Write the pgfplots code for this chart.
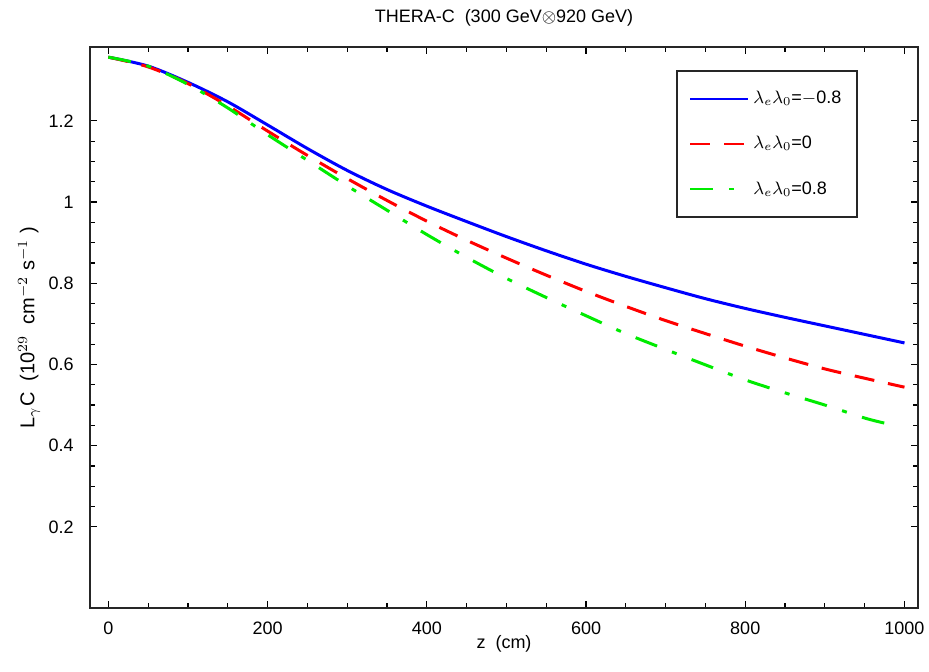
\documentclass[border=0pt]{standalone}
\usepackage{pgfplots}
\pgfplotsset{compat=1.18}
\usepackage{fontspec}
\setmainfont{Liberation Sans}
\begin{document}
\fontsize{9pt}{11pt}\selectfont
\begin{tikzpicture}
\begin{axis}[
  scale only axis, width=414pt, height=280.5pt,
  xmin=-23, xmax=1017, ymin=0, ymax=1.382,
  xtick={0,200,...,1000}, minor x tick num=3,
  xticklabels={0,200,400,600,800,1000},
  ytick={0.2,0.4,...,1.2}, minor y tick num=3,
  yticklabels={0.2,0.4,0.6,0.8,1,1.2},
  tick align=inside, major tick length=3.5pt, minor tick length=2.5pt,
  axis line style={line width=1pt, black!85},
  every tick/.style={black, line width=0.6pt},
  /pgf/number format/assume math mode=true,
  xticklabel style={yshift=-4pt},
  yticklabel style={xshift=-5pt},
  title={THERA-C\ \ (300 GeV$\otimes$920 GeV)},
  title style={yshift=1pt},
  xlabel={z\ \ (cm)}, xlabel style={yshift=6pt},
  ylabel={L$_\gamma$C\ \ (10$^{29}$\ \ cm$^{-2}$\ s$^{-1}$\ )},
  ylabel style={yshift=-2pt, font=\fontsize{10pt}{12pt}\selectfont},
  legend style={at={(0.928,0.959)}, anchor=north east, draw=black!85, line width=1pt,
    inner xsep=6pt, inner ysep=8pt, row sep=11pt, font=\fontsize{9pt}{11pt}\selectfont,
    legend cell align=left},
  legend image code/.code={\draw[#1, line width=1pt] (0pt,0pt) -- (29pt,0pt);},
]
\addplot[blue, line width=1.5pt, smooth] coordinates {
(0,1.357)(50,1.335)(100,1.295)(150,1.247)(200,1.19)(250,1.132)(300,1.078)(350,1.031)
(400,0.99)(450,0.952)(500,0.915)(550,0.880)(600,0.847)(650,0.817)(700,0.789)
(750,0.762)(800,0.738)(850,0.716)(900,0.695)(950,0.674)(1000,0.653)};
\addlegendentry{$\lambda_e\lambda_0$=$-$0.8}
\addplot[red, line width=1.5pt, smooth, dash pattern=on 10pt off 7pt] coordinates {
(0,1.357)(50,1.333)(100,1.292)(150,1.237)(200,1.175)(250,1.115)(300,1.058)(350,1.004)
(400,0.953)(450,0.906)(500,0.862)(550,0.82)(600,0.78)(650,0.743)(700,0.708)
(750,0.676)(800,0.645)(850,0.616)(900,0.589)(950,0.566)(1000,0.544)};
\addlegendentry{$\lambda_e\lambda_0$=0}
\addplot[color={rgb,255:red,0;green,235;blue,0}, line width=1.5pt, smooth, dash pattern=on 11.5pt off 8pt on 2.5pt off 8pt] coordinates {
(0,1.357)(50,1.335)(100,1.29)(150,1.232)(200,1.166)(250,1.103)(300,1.04)(350,0.98)
(400,0.92)(450,0.864)(500,0.812)(550,0.765)(600,0.72)(650,0.676)(700,0.637)
(750,0.599)(800,0.562)(850,0.53)(900,0.5)(950,0.468)(976,0.455)};
\addlegendentry{$\lambda_e\lambda_0$=0.8}
\end{axis}
\pgfresetboundingbox
\useasboundingbox (-45pt,-31.5pt) rectangle (419.5pt,304pt);
\end{tikzpicture}
\end{document}
